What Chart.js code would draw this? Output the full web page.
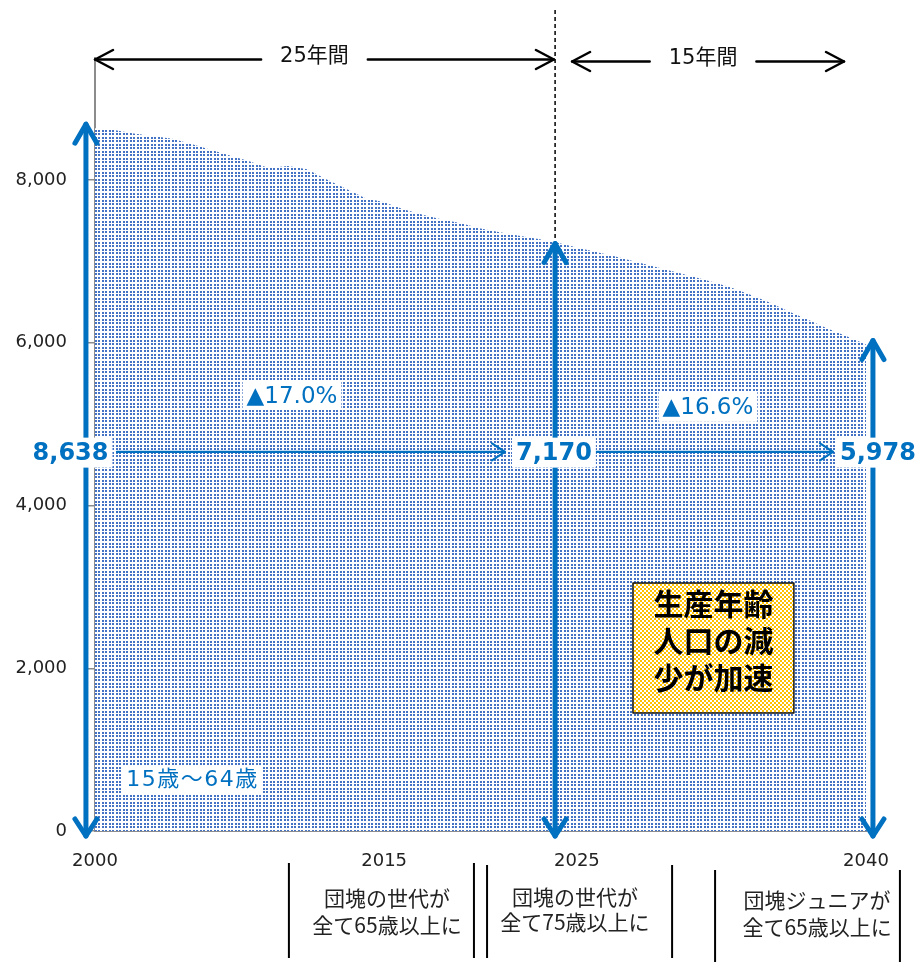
<!DOCTYPE html>
<html><head><meta charset="utf-8">
<script src="https://cdn.jsdelivr.net/npm/chart.js@4/dist/chart.umd.min.js"></script>
<style>html,body{margin:0;padding:0;background:#fff}#wrap{width:916px;height:962px;position:relative}</style>
</head><body><div id="wrap"><canvas id="c" width="916" height="962"></canvas></div>
<script>
// ---- data ----
const years = [2000,2001,2002,2003,2004,2005,2006,2007,2008,2009,2010,2011,2012,2013,2014,2015,2016,2017,2018,2019,2020,2021,2022,2023,2024,2025,2026,2027,2028,2029,2030,2031,2032,2033,2034,2035,2036,2037,2038,2039,2040];
const workingAgePop = [8638,8614,8571,8540,8508,8442,8373,8301,8230,8149,8173,8134,8010,7895,7780,7728,7640,7575,7515,7470,7406,7359,7315,7276,7228,7170,7117,7059,6998,6938,6875,6814,6751,6679,6590,6494,6386,6284,6177,6079,5978];
const xTickYears = [2000,2015,2025,2040];
const yTickValues = [0,2000,4000,6000,8000];
const keyYears = [2000,2025,2040];
const keyValues = [8638,7170,5978];
const declineLabels = ['▲17.0%','▲16.6%'];
const periodLabels = ['25年間','15年間'];
const seriesLabel = '15歳～64歳';
const calloutLines = ['生産年齢','人口の減','少が加速'];
const eventNotes = [['団塊の世代が','全て65歳以上に'],['団塊の世代が','全て75歳以上に'],['団塊ジュニアが','全て65歳以上に']];

const BLUE = '#0070C0';
const NUMFONT = '"DejaVu Sans","Noto Sans CJK JP",sans-serif';
const JPFONT = '"Noto Sans CJK JP",sans-serif';

function makePattern(w,h,color,cells){
  const c=document.createElement('canvas'); c.width=w; c.height=h;
  const g=c.getContext('2d'); g.fillStyle='#fff'; g.fillRect(0,0,w,h);
  g.fillStyle=color; cells.forEach(r=>g.fillRect(r[0],r[1],r[2],r[3]));
  return document.getElementById('c').getContext('2d').createPattern(c,'repeat');
}
const areaPattern = makePattern(7,7,'#4472C4',[[0,0,2,2],[4,0,2,2],[0,4,2,2],[4,4,2,2]]);
const yellowPattern = makePattern(4,4,'#FFC000',[[0,0,2,2],[2,2,2,2]]);

function chevron(ctx,tx,ty,dx,dy,L,W){
  const bx=tx-dx*L, by=ty-dy*L, px=-dy, py=dx;
  ctx.beginPath(); ctx.moveTo(bx+px*W,by+py*W); ctx.lineTo(tx,ty); ctx.lineTo(bx-px*W,by-py*W); ctx.stroke();
}
function boxedText(ctx,text,cx,cy,font,color,padX,h,spacing){
  ctx.font=font; ctx.letterSpacing=(spacing||0)+'px';
  const w=ctx.measureText(text).width;
  ctx.fillStyle='#fff'; ctx.fillRect(cx-w/2-padX,cy-h/2,w+2*padX,h);
  ctx.fillStyle=color; ctx.textAlign='center'; ctx.textBaseline='middle';
  ctx.fillText(text,cx,cy+1);
  ctx.letterSpacing='0px';
}

const deco = {
  id:'deco',
  afterDraw(chart){
    const {ctx, chartArea:ca} = chart;
    const xs=chart.scales.x, ys=chart.scales.y;
    const X=v=>xs.getPixelForValue(v), Y=v=>ys.getPixelForValue(v);
    ctx.save();
    ctx.lineCap='round'; ctx.lineJoin='round';

    // dashed divider at the 25-year mark
    const divX = X(2023.87);
    ctx.strokeStyle='#000'; ctx.lineWidth=1.5; ctx.setLineDash([4,3]); ctx.lineCap='butt';
    ctx.beginPath(); ctx.moveTo(divX, ca.top-48); ctx.lineTo(divX, Y(keyValues[1])-6); ctx.stroke();
    ctx.setLineDash([]); ctx.lineCap='round';

    // period arrows
    const periods=[{a:X(2000),b:X(2023.81),yy:ca.top+1.5,t:periodLabels[0]},{a:X(2024.75),b:X(2038.86),yy:ca.top+3.5,t:periodLabels[1]}];
    ctx.font='21px '+NUMFONT;
    periods.forEach(p=>{
      const tw=ctx.measureText(p.t).width, cx=(p.a+p.b)/2 - (p===periods[0]?10:5);
      ctx.strokeStyle='#000'; ctx.lineWidth=2.5;
      ctx.beginPath(); ctx.moveTo(p.a,p.yy); ctx.lineTo(cx-tw/2-19,p.yy); ctx.moveTo(cx+tw/2+19,p.yy); ctx.lineTo(p.b,p.yy); ctx.stroke();
      chevron(ctx,p.a,p.yy,-1,0,18,9.5); chevron(ctx,p.b,p.yy,1,0,18,9.5);
      ctx.fillStyle='#111'; ctx.textAlign='center'; ctx.textBaseline='middle';
      ctx.fillText(p.t,cx,p.yy-3);
    });

    // vertical blue double arrows
    const arrowXs=[X(1999.53),X(2023.87),X(2040.36)];
    ctx.strokeStyle=BLUE; ctx.lineWidth=5;
    keyValues.forEach((v,i)=>{
      const ax=arrowXs[i], t=Y(v)-4, b=Y(0)+5;
      ctx.beginPath(); ctx.moveTo(ax,t); ctx.lineTo(ax,b); ctx.stroke();
      chevron(ctx,ax,t,0,-1,19,11); chevron(ctx,ax,b,0,1,17,11);
    });

    // horizontal arrows
    const level=Y(4660);
    ctx.lineWidth=2.2;
    [[2001.14,2021.27],[2025.84,2038.29]].forEach(s=>{
      ctx.beginPath(); ctx.moveTo(X(s[0]),level); ctx.lineTo(X(s[1]),level); ctx.stroke();
      chevron(ctx,X(s[1]),level,1,0,13,8.5);
    });

    // value labels
    const labX=[X(1998.73),X(2023.81),X(2040.62)];
    keyValues.forEach((v,i)=>{
      boxedText(ctx,v.toLocaleString('en-US'),labX[i],Y(4650),'bold 24px '+NUMFONT,BLUE,4,30);
    });
    // decline labels
    boxedText(ctx,declineLabels[0],X(2010.22),Y(5349),'23px '+NUMFONT,BLUE,4,28);
    boxedText(ctx,declineLabels[1],X(2031.80),Y(5213),'23px '+NUMFONT,BLUE,4,30);
    // series label
    boxedText(ctx,seriesLabel,X(2005.06),Y(639),'22px '+NUMFONT,BLUE,4,28,1.5);

    // callout box
    const bx0=X(2027.91), bx1=X(2036.26), by0=Y(3049), by1=Y(1451);
    ctx.fillStyle=yellowPattern; ctx.fillRect(bx0,by0,bx1-bx0,by1-by0);
    ctx.strokeStyle='#111'; ctx.lineWidth=1.5; ctx.strokeRect(bx0,by0,bx1-bx0,by1-by0);
    ctx.fillStyle='#000'; ctx.font='bold 30px '+JPFONT; ctx.textAlign='center'; ctx.textBaseline='middle';
    const bcx=(bx0+bx1)/2;
    calloutLines.forEach((t,i)=>ctx.fillText(t,bcx,by0+21+i*37));

    // event notes below the axis
    const B=ca.bottom;
    ctx.strokeStyle='#000'; ctx.lineWidth=2; ctx.lineCap='butt';
    [[2010.06,32,127],[2019.66,32,127],[2020.34,34,127],[2029.94,34,127],[2032.17,39,131],[2041.76,39,131]].forEach(l=>{
      ctx.beginPath(); ctx.moveTo(X(l[0]),B+l[1]); ctx.lineTo(X(l[0]),B+l[2]); ctx.stroke();
    });
    ctx.fillStyle='#222'; ctx.font='21px '+JPFONT; ctx.textAlign='center'; ctx.textBaseline='middle';
    const notePos=[[2015.15,67,94],[2024.90,66,91],[2037.46,69,96]];
    eventNotes.forEach((n,i)=>{
      ctx.fillText(n[0],X(notePos[i][0]),B+notePos[i][1]);
      ctx.fillText(n[1],X(notePos[i][0]),B+notePos[i][2]);
    });
    ctx.restore();
  }
};

new Chart(document.getElementById('c'),{
  type:'line',
  data:{datasets:[{
    label:seriesLabel,
    data:years.map((yr,i)=>({x:yr,y:workingAgePop[i]})),
    fill:'origin', backgroundColor:areaPattern, borderWidth:0, pointRadius:0, tension:0
  }]},
  options:{
    responsive:false, animation:false, devicePixelRatio:1,
    layout:{padding:{left:0,right:50,top:58,bottom:0}},
    plugins:{legend:{display:false},tooltip:{enabled:false}},
    scales:{
      x:{type:'linear',min:2000,max:2040,
        afterBuildTicks:s=>{s.ticks=xTickYears.map(v=>({value:v}));},
        afterFit:s=>{s.height=131;},
        ticks:{callback:v=>String(v),font:{family:NUMFONT,size:18},color:'#222',padding:20,maxRotation:0,autoSkip:false},
        grid:{display:false,drawTicks:false},
        border:{display:true,color:'#8c8c8c',width:2}
      },
      y:{min:0,max:9500,
        afterBuildTicks:s=>{s.ticks=yTickValues.map(v=>({value:v}));},
        afterFit:s=>{s.width=95;},
        ticks:{callback:v=>v.toLocaleString('en-US'),font:{family:NUMFONT,size:18},color:'#222',padding:21},
        grid:{drawOnChartArea:false,drawTicks:true,tickLength:7,color:'#8c8c8c',lineWidth:1.5},
        border:{display:true,color:'#8c8c8c',width:2}
      }
    }
  },
  plugins:[deco]
});
</script></body></html>
